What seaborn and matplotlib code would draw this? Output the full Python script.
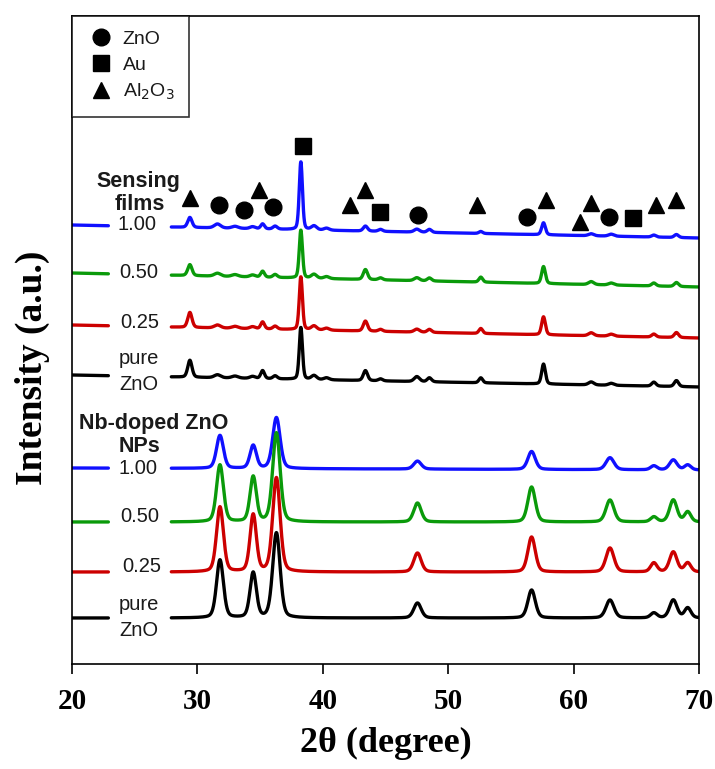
import numpy as np
import pandas as pd
import matplotlib
matplotlib.use("Agg")
import matplotlib.pyplot as plt
import seaborn as sns
from matplotlib.lines import Line2D

sns.set_theme(style="white")
plt.rcParams['font.family'] = ['Liberation Sans', 'DejaVu Sans']

# ---------------- data ----------------
trace_names = ["1.00", "0.50", "0.25", "pure ZnO"]
trace_colors = ["#1010ff", "#0a9a0a", "#cc0000", "#000000"]

# Sensing films: baselines (left, right) and peak list
film_base_left = [439, 391, 339, 289]
film_base_right = [426, 377, 326, 277]
film_peak_pos = [29.4, 31.6, 33.0, 34.4, 35.2, 36.2, 38.25, 39.3, 40.3, 43.4, 44.6, 47.5, 48.5, 52.6, 57.6, 61.4, 63.0, 66.4, 68.2]
film_peak_fwhm = [0.4, 0.6, 0.6, 0.5, 0.35, 0.4, 0.3, 0.5, 0.5, 0.4, 0.4, 0.5, 0.4, 0.35, 0.35, 0.5, 0.5, 0.4, 0.4]
film_h_100 = [10, 4, 2, 2, 5, 3, 68, 4, 2, 5, 2, 3, 3, 2, 12, 2, 2, 2, 3]
film_h_050 = [11, 3, 2, 2, 6, 3, 48, 4, 2, 10, 2, 3, 3, 5, 17, 3, 2, 3, 4]
film_h_025 = [15, 3, 2, 2, 7, 3, 53, 4, 2, 10, 2, 3, 3, 5, 18, 3, 2, 3, 5]
film_h_pure = [17, 3, 2, 2, 8, 3, 52, 4, 2, 10, 2, 5, 4, 5, 20, 3, 2, 4, 6]

# Nb-doped ZnO NPs
np_base_left = [196, 142, 92, 46]
np_base_right = [194, 142, 92, 46]
np_peak_pos = [31.8, 34.45, 36.3, 47.55, 56.65, 62.9, 66.4, 67.95, 69.1]
np_peak_fwhm = [0.65, 0.6, 0.7, 0.7, 0.7, 0.75, 0.6, 0.7, 0.6]
np_h_100 = [33, 23, 51, 8, 18, 12, 4, 10, 5]
np_h_050 = [57, 45, 89, 19, 35, 22, 5, 22, 10]
np_h_025 = [65, 57, 94, 19, 35, 24, 9, 20, 9]
np_h_pure = [58, 45, 85, 15, 28, 18, 5, 18, 10]

gap_start, gap_end = 22.9, 27.9

# Phase markers above the film patterns
znO_x = [31.7, 33.7, 36.0, 47.6, 56.3, 62.8]
znO_y = [459, 454, 457, 449, 447, 447]
au_x = [38.4, 44.6, 64.7]
au_y = [518, 452, 446]
al_x = [29.4, 34.9, 42.2, 43.4, 52.3, 57.8, 60.5, 61.4, 66.6, 68.2]
al_y = [466, 474, 459, 474, 459, 464, 442, 461, 459, 464]

# Labels
film_label_x = [25.2, 25.3, 25.4]
film_label_y = [440, 391, 341]
np_label_x = [25.3, 25.4, 25.6]
np_label_y = [196, 147, 97]

x_ticks = [20, 30, 40, 50, 60, 70]


def pattern(x, pos, fwhm, heights, b0, b1):
    y = b0 + (b1 - b0) * (x - 20) / 50.0
    for p, w, h in zip(pos, fwhm, heights):
        g = np.exp(-4 * np.log(2) * ((x - p) / w) ** 2)
        l = 1.0 / (1 + 4 * ((x - p) / w) ** 2)
        y = y + h * (0.7 * g + 0.3 * l)
    return y


x = np.arange(20, 70.001, 0.02)
rows = []
film_heights = [film_h_100, film_h_050, film_h_025, film_h_pure]
np_heights = [np_h_100, np_h_050, np_h_025, np_h_pure]
for i, name in enumerate(trace_names):
    yf = pattern(x, film_peak_pos, film_peak_fwhm, film_heights[i], film_base_left[i], film_base_right[i])
    yn = pattern(x, np_peak_pos, np_peak_fwhm, np_heights[i], np_base_left[i], np_base_right[i])
    for grp, yy in (("film", yf), ("np", yn)):
        for seg, mask in ((0, x <= gap_start), (1, x >= gap_end)):
            rows.append(pd.DataFrame({"x": x[mask], "y": yy[mask], "trace": name,
                                      "group": grp, "seg": seg}))
df = pd.concat(rows, ignore_index=True)

# ---------------- figure ----------------
fig = plt.figure(figsize=(7.15, 7.69), dpi=100)
ax = fig.add_axes([72 / 715, 105 / 769, 627 / 715, 648 / 769])

for grp in ("np", "film"):
    for i, name in enumerate(trace_names):
        sub = df[(df.group == grp) & (df.trace == name)]
        sns.lineplot(data=sub, x="x", y="y", units="seg", estimator=None,
                     color=trace_colors[i], lw=2.4, ax=ax, legend=False)

# markers
mk = dict(color="black", ls="none", zorder=5)
ax.plot(znO_x, znO_y, marker="o", ms=12, **mk)
ax.plot(au_x, au_y, marker="s", ms=11, **mk)
ax.plot(al_x, al_y, marker="^", ms=12, **mk)

# labels
tc = "#1a1a1a"
for lx, ly, t in zip(film_label_x, film_label_y, trace_names[:3]):
    ax.text(lx, ly, t, ha="center", va="center", fontsize=14.5, color=tc)
ax.text(25.35, 305, "pure", ha="center", va="center", fontsize=14.5, color=tc)
ax.text(25.35, 280, "ZnO", ha="center", va="center", fontsize=14.5, color=tc)
for lx, ly, t in zip(np_label_x, np_label_y, trace_names[:3]):
    ax.text(lx, ly, t, ha="center", va="center", fontsize=14.5, color=tc)
ax.text(25.35, 59, "pure", ha="center", va="center", fontsize=14.5, color=tc)
ax.text(25.35, 34, "ZnO", ha="center", va="center", fontsize=14.5, color=tc)

ax.text(25.3, 482, "Sensing", ha="center", va="center", fontsize=15.5, fontweight="bold", color=tc)
ax.text(25.4, 460, "films", ha="center", va="center", fontsize=15.5, fontweight="bold", color=tc)
ax.text(26.5, 241, "Nb-doped ZnO", ha="center", va="center", fontsize=15.5, fontweight="bold", color=tc)
ax.text(25.4, 217, "NPs", ha="center", va="center", fontsize=15.5, fontweight="bold", color=tc)

# legend
handles = [Line2D([], [], marker="o", color="black", ls="none", ms=12),
           Line2D([], [], marker="s", color="black", ls="none", ms=11),
           Line2D([], [], marker="^", color="black", ls="none", ms=12)]
leg = ax.legend(handles, ["ZnO", "Au", "Al$_2$O$_3$"], loc="upper left",
                bbox_to_anchor=(0, 1), borderaxespad=0, frameon=True, fancybox=False,
                fontsize=14, handlelength=1.5, handletextpad=0.35, labelspacing=0.42,
                borderpad=0.75, edgecolor="black")
leg.get_frame().set_linewidth(1.2)
for t in leg.get_texts():
    t.set_color(tc)

# axes
ax.set_xlim(20, 70)
ax.set_ylim(0, 648)
ax.set_xticks(x_ticks)
ax.set_xticklabels([str(v) for v in x_ticks])
ax.set_yticks([])
for s in ax.spines.values():
    s.set_color("black")
    s.set_linewidth(1.2)
ax.tick_params(axis="x", direction="out", length=7, width=1.2, pad=10, bottom=True,
               labelsize=21, colors="black")
for lab in ax.get_xticklabels():
    lab.set_fontfamily("Liberation Serif")
    lab.set_fontweight("bold")
ax.set_xlabel("2θ (degree)", fontsize=26, fontweight="bold", family="Liberation Serif",
              labelpad=9, color="black")
ax.set_ylabel("Intensity (a.u.)", fontsize=27, fontweight="bold", family="Liberation Serif",
              color="black")
ax.yaxis.set_label_coords(-0.035, 0.457)

fig.savefig("out.png", dpi=100)
